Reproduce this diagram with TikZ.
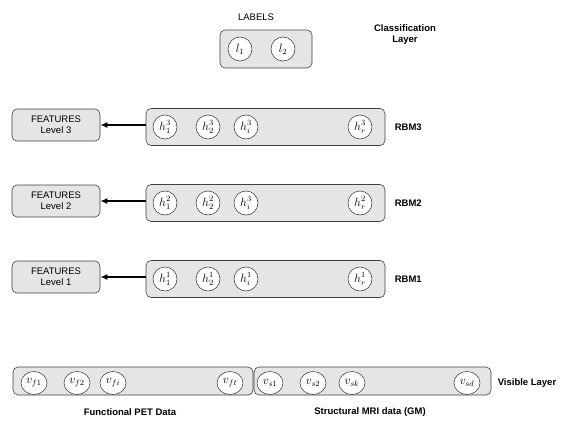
\documentclass[tikz,border=0pt]{standalone}
\usepackage{fontspec}
\setmainfont{Liberation Sans}
\usepackage{amsmath}
\usetikzlibrary{positioning,arrows.meta,shapes.geometric}

\tikzset{
  layerbox/.style={draw=black!75, fill=black!10, rounded corners=5pt, line width=0.6pt},
  featbox/.style={layerbox, minimum width=88pt, minimum height=32pt, align=center, font=\fontsize{9.5}{11}\selectfont},
  unit/.style={draw=black!80, fill=white, circle, inner sep=0pt, minimum size=24pt, line width=0.5pt, font=\fontsize{12}{12}\selectfont},
  vunit/.style={unit, ellipse, minimum width=26pt, minimum height=23pt},
  layername/.style={font=\bfseries\fontsize{9.5}{11}\selectfont, align=center},
  featarrow/.style={-{Latex[length=7pt,width=6pt]}, line width=1.6pt},
}

\begin{document}
\begin{tikzpicture}[x=1pt,y=-1pt]
        \useasboundingbox (0,0) rectangle (576,423);
        % classification layer
        \node[layerbox, minimum width=92pt, minimum height=38pt] (lab) at (266,49) {};
        \node[unit] (l1) at (240,49) {$l_1$};
        \node[unit] (l2) at (283,49) {$l_2$};
        \node[font=\fontsize{9.5}{11}\selectfont] (labtxt) at (256,17) {LABELS};
        \node[layername] (cls) at (405,35) {Classification\\Layer};
        % the three RBMs with their feature boxes
        \foreach \k/\y in {3/127,2/203,1/279} {
          \node[layerbox, minimum width=239pt, minimum height=37pt] (rbm\k) at (265.5,\y) {};
          \node[layername, right=6pt of rbm\k] (rbmtxt\k) {RBM\k};
          \node[featbox] (feat\k) at (56,\y-2) {FEATURES\\Level \k};
          \draw[featarrow] (rbm\k.west |- feat\k) -- (feat\k.east);
          \node[unit] (h1\k) at (165,\y) {$h_1^{\k}$};
          \node[unit] (h2\k) at (208,\y) {$h_2^{\k}$};
          \node[unit] (hr\k) at (360,\y) {$h_r^{\k}$};
        }
        \node[unit] (hi3) at (246,127) {$h_i^3$};
        \node[unit] (hi2) at (246,203) {$h_i^3$};
        \node[unit] (hi1) at (246,279) {$h_i^1$};
        % visible layer
        \node[layerbox, minimum width=240pt, minimum height=28pt] (pet) at (133,381) {};
        \node[layerbox, minimum width=237pt, minimum height=28pt] (mri) at (372.5,381) {};
        \node[vunit] (vf1) at (34,383) {$v_{f1}$};
        \node[vunit] (vf2) at (77,383) {$v_{f2}$};
        \node[vunit] (vfi) at (113,383) {$v_{fi}$};
        \node[vunit] (vft) at (230,383) {$v_{ft}$};
        \node[vunit] (vs1) at (270,383) {$v_{s1}$};
        \node[vunit] (vs2) at (313,383) {$v_{s2}$};
        \node[vunit] (vsk) at (352,383) {$v_{sk}$};
        \node[vunit] (vsd) at (467,383) {$v_{sd}$};
        \node[layername] (vis) at (527,383) {Visible Layer};
        \node[layername] (pettxt) at (130,412) {Functional PET Data};
        \node[layername] (mritxt) at (370,412) {Structural MRI data (GM)};
\end{tikzpicture}
\end{document}
